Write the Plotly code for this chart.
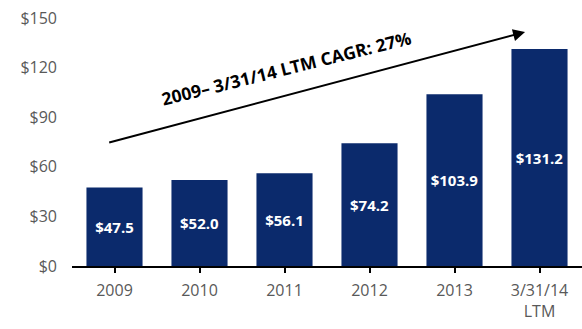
import plotly.graph_objects as go

# Revenue ($ millions) by period
periods = ["2009", "2010", "2011", "2012", "2013", "3/31/14<br>LTM"]
revenue = [47.5, 52.0, 56.1, 74.2, 103.9, 131.2]
y_ticks = [0, 30, 60, 90, 120, 150]
cagr_label = "2009– 3/31/14 LTM CAGR: 27%"

navy = "#0b2a6c"
gray = "#595959"
font_family = "Open Sans, Liberation Sans, sans-serif"

fig = go.Figure()
fig.add_trace(go.Bar(
    x=list(range(len(periods))),
    y=revenue,
    marker=dict(color=navy, line=dict(width=0)),
    text=[f"${v:.1f}" for v in revenue],
    textposition="inside",
    insidetextanchor="middle",
    textfont=dict(color="white", size=15, family=font_family, weight="bold"),
    textangle=0,
    hoverinfo="skip",
))

# Growth arrow with CAGR label
fig.add_annotation(
    x=4.83, y=141.5, xref="x", yref="y",
    ax=-0.08, ay=74.5, axref="x", ayref="y",
    showarrow=True, arrowhead=2, arrowsize=1.2, arrowwidth=2, arrowcolor="black",
    text="",
)
fig.add_annotation(
    x=2.02, y=120, xref="x", yref="y",
    text=cagr_label, showarrow=False, textangle=-14,
    font=dict(size=17.5, color="black", family=font_family, weight="bold"),
)

fig.update_layout(
    width=582, height=329,
    margin=dict(l=72, r=0, t=18, b=63),
    paper_bgcolor="white", plot_bgcolor="white",
    showlegend=False,
    bargap=0.34,
    font=dict(family=font_family, color=gray),
)
fig.update_xaxes(
    tickmode="array",
    tickvals=list(range(len(periods))),
    ticktext=periods,
    range=[-0.5, len(periods) - 0.5],
    showline=True, linecolor="black", linewidth=1.5,
    ticks="outside", ticklen=5, tickcolor="black", tickwidth=1.5,
    showgrid=False, zeroline=False,
    tickfont=dict(size=16, color=gray),
    ticklabelstandoff=4,
)
# category-boundary tick marks along the baseline
fig.update_xaxes(tickson="boundaries")
fig.update_yaxes(
    range=[0, 150],
    tickmode="array", tickvals=y_ticks,
    ticktext=[f"${v}" for v in y_ticks],
    showgrid=False, zeroline=False, showline=False,
    ticks="", ticklabelstandoff=14,
    tickfont=dict(size=16, color=gray),
)

fig.write_html("out.html")
